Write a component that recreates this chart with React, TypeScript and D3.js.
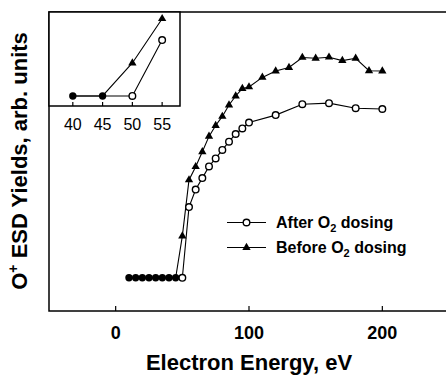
import React from "react";
import * as d3 from "d3";

const afterEnergy = [10, 15, 20, 25, 30, 35, 40, 45, 50, 55, 60, 65, 70, 75, 80, 85, 90, 95, 100, 120, 140, 160, 180, 200];
const afterYield = [0, 0, 0, 0, 0, 0, 0, 0, 0, 2.66, 3.32, 3.75, 4.19, 4.49, 4.81, 5.12, 5.41, 5.62, 5.84, 6.12, 6.53, 6.57, 6.38, 6.35];
const beforeEnergy = [10, 15, 20, 25, 30, 35, 40, 45, 50, 55, 60, 65, 70, 75, 80, 85, 90, 95, 100, 110, 120, 130, 140, 150, 160, 170, 180, 190, 200];
const beforeYield = [0, 0, 0, 0, 0, 0, 0, 0, 1.57, 3.68, 4.18, 4.74, 5.32, 5.73, 6.07, 6.5, 6.84, 7.12, 7.18, 7.54, 7.78, 7.91, 8.29, 8.26, 8.3, 8.17, 8.26, 7.79, 7.78];
const mainTicks = [0, 100, 200];
const insetTicks = [40, 45, 50, 55];
const legendLabels = ["After O", "Before O"];

type P = { e: number; v: number };
const after: P[] = afterEnergy.map((e, i) => ({ e, v: afterYield[i] }));
const before: P[] = beforeEnergy.map((e, i) => ({ e, v: beforeYield[i] }));
const shared = after.filter((p) => before.some((q) => q.e === p.e && q.v === p.v));
const isShared = (p: P) => shared.some((s) => s.e === p.e);

const FONT = "'Liberation Sans', Arial, sans-serif";
const tri = d3.symbol().type(d3.symbolTriangle).size(30)() as string;

function Series({ x, y, lo, hi }: { x: d3.ScaleLinear<number, number>; y: d3.ScaleLinear<number, number>; lo: number; hi: number }) {
  const inR = (p: P) => p.e >= lo && p.e <= hi;
  const line = d3.line<P>().x((p) => x(p.e)).y((p) => y(p.v));
  const a = after.filter(inR);
  const b = before.filter(inR);
  return (
    <g>
      <path d={line(b) || ""} fill="none" stroke="#000" strokeWidth={1.1} />
      <path d={line(a) || ""} fill="none" stroke="#000" strokeWidth={1.1} />
      {b.filter((p) => !isShared(p)).map((p, i) => (
        <path key={"b" + i} d={tri} transform={`translate(${x(p.e)},${y(p.v)})`} fill="#000" />
      ))}
      {a.filter((p) => !isShared(p)).map((p, i) => (
        <circle key={"a" + i} cx={x(p.e)} cy={y(p.v)} r={3.3} fill="#fff" stroke="#000" strokeWidth={1.4} />
      ))}
      {shared.filter(inR).map((p, i) => (
        <circle key={"s" + i} cx={x(p.e)} cy={y(p.v)} r={3.7} fill="#000" />
      ))}
    </g>
  );
}

export default function App() {
  const W = 446, H = 375;
  const x = d3.scaleLinear().domain([-50, 250]).range([49, 449]);
  const y = d3.scaleLinear().domain([-1.25, 10]).range([311, 12]);
  const xi = d3.scaleLinear().domain([36, 58]).range([49, 180]);
  const yi = d3.scaleLinear().domain([-0.48, 4.0]).range([106, 12]);

  return (
    <svg width={W} height={H} style={{ position: "absolute", left: 0, top: 0, background: "#fff" }} fontFamily={FONT}>
      <rect x={0} y={0} width={W} height={H} fill="#fff" />
      {/* main frame */}
      <rect x={x(-50)} y={y(10)} width={x(250) - x(-50)} height={y(-1.25) - y(10)} fill="none" stroke="#000" strokeWidth={1.5} />
      {mainTicks.map((t) => (
        <g key={t}>
          <line x1={x(t)} x2={x(t)} y1={y(-1.25)} y2={y(-1.25) - 5} stroke="#000" strokeWidth={1.2} />
          <text x={x(t)} y={339} textAnchor="middle" fontSize={18} fontWeight="bold">{t}</text>
        </g>
      ))}
      <Series x={x} y={y} lo={-100} hi={1000} />

      {/* inset */}
      <rect x={xi(36)} y={yi(4.0)} width={xi(58) - xi(36)} height={yi(-0.48) - yi(4.0)} fill="#fff" stroke="#000" strokeWidth={1.5} />
      {insetTicks.map((t) => (
        <g key={t}>
          <line x1={xi(t)} x2={xi(t)} y1={yi(-0.48)} y2={yi(-0.48) - 4} stroke="#000" strokeWidth={1.2} />
          <text x={xi(t)} y={130} textAnchor="middle" fontSize={16}>{t}</text>
        </g>
      ))}
      <Series x={xi} y={yi} lo={40} hi={55} />

      {/* legend */}
      <g>
        <line x1={227} x2={266} y1={222.5} y2={222.5} stroke="#000" strokeWidth={1.1} />
        <circle cx={246.5} cy={222.5} r={3.3} fill="#fff" stroke="#000" strokeWidth={1.4} />
        <text x={276} y={228} fontSize={16} fontWeight="bold">
          {legendLabels[0]}<tspan fontSize={11} dy={4}>2</tspan><tspan dy={-4}> dosing</tspan>
        </text>
        <line x1={227} x2={266} y1={247.5} y2={247.5} stroke="#000" strokeWidth={1.1} />
        <path d={tri} transform="translate(246.5,247.5)" fill="#000" />
        <text x={276} y={253} fontSize={16} fontWeight="bold">
          {legendLabels[1]}<tspan fontSize={11} dy={4}>2</tspan><tspan dy={-4}> dosing</tspan>
        </text>
      </g>

      {/* axis titles */}
      <text x={x(100)} y={370} textAnchor="middle" fontSize={22} fontWeight="bold">Electron Energy, eV</text>
      <text transform="translate(27,161) rotate(-90)" textAnchor="middle" fontSize={22} fontWeight="bold">
        O<tspan fontSize={14} dy={-9}>+</tspan><tspan dy={9}> ESD Yields, arb. units</tspan>
      </text>
    </svg>
  );
}
